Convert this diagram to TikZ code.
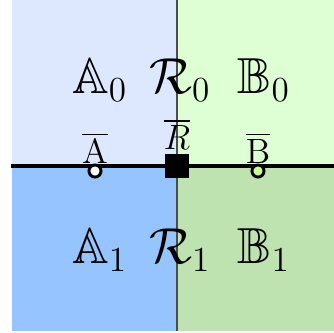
\documentclass[tikz,border=0pt]{standalone}
\usepackage{amsmath,amssymb}
\usepackage{tikz}
\usetikzlibrary{positioning}
\usepackage{xcolor}
\definecolor{qA0}{RGB}{221,232,255}
\definecolor{qA1}{RGB}{150,196,255}
\definecolor{qB0}{RGB}{222,255,212}
\definecolor{qB1}{RGB}{190,226,176}
\definecolor{bdot}{RGB}{200,250,150}

\begin{document}
\begin{tikzpicture}[x=0.012cm, y=0.012cm,
    region/.style={font=\LARGE},
    bar/.style={font=\large, inner sep=1pt},
    site/.style={circle, draw, line width=1pt, inner sep=0pt, minimum size=1.45mm}]
  \useasboundingbox (-177,-167) rectangle (157,166);
  % --- quadrants ---
  \fill[qA0] (-165,0) rectangle (0,166);
  \fill[qB0] (0,0) rectangle (157,166);
  \fill[qA1] (-165,-165) rectangle (0,0);
  \fill[qB1] (0,-165) rectangle (157,0);
  \draw[black!70, line width=0.4pt] (0,166) -- (0,-165);
  % --- region labels ---
  \node[region] (a0) at (-77,86) {$\mathbb{A}_0$};
  \node[region] (r0) at (3,86) {$\mathcal{R}_0$};
  \node[region] (b0) at (87,86) {$\mathbb{B}_0$};
  \node[region] (a1) at (-77,-84) {$\mathbb{A}_1$};
  \node[region] (r1) at (3,-84) {$\mathcal{R}_1$};
  \node[region] (b1) at (87,-84) {$\mathbb{B}_1$};
  % --- the line and its sites ---
  \coordinate (west) at (-166,0);
  \coordinate (east) at (157,0);
  \draw[line width=1.3pt] (west) -- (east);
  \node[site, fill=white] (sa) at (-82,-5) {};
  \node[site, fill=bdot] (sb) at (81,-5) {};
  \node[fill=black, minimum size=2.9mm, inner sep=0pt] (sr) at (0,0) {};
  \node[bar] (la) at (-82,18) {$\overline{\mathrm{A}}$};
  \node[bar, above=0pt of sr] (lr) {$\overline{R}$};
  \node[bar] (lb) at (81,18) {$\overline{\mathrm{B}}$};
\end{tikzpicture}
\end{document}
